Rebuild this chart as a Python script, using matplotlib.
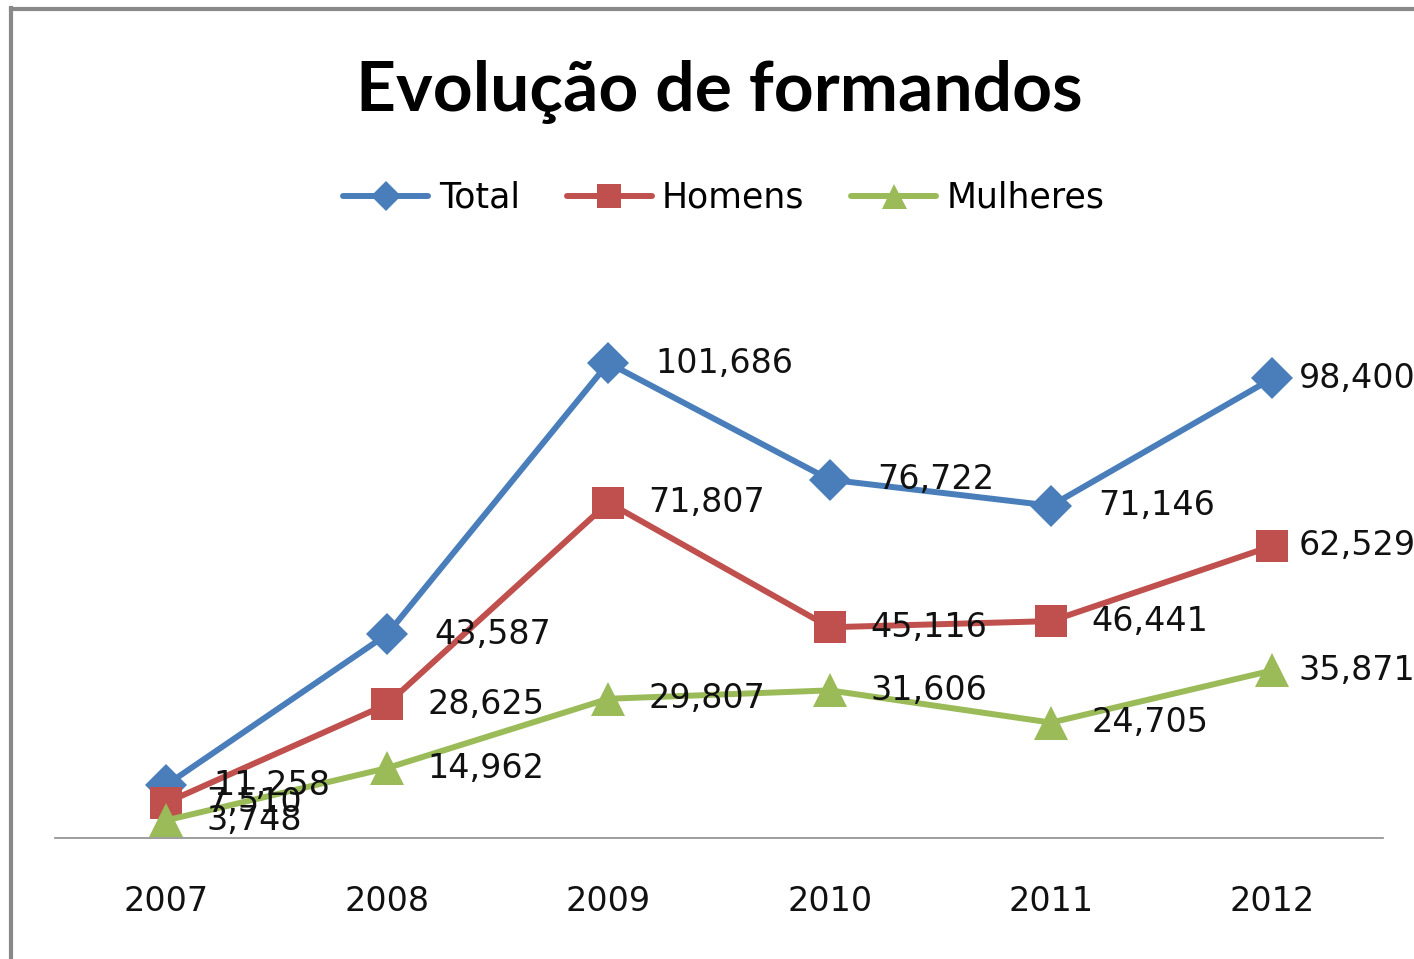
import matplotlib
matplotlib.use("Agg")
import matplotlib.pyplot as plt
from matplotlib.lines import Line2D

plt.rcParams.update({
    "font.family": ["DejaVu Sans"],
    "font.size": 24,
})

YEARS = ["2007", "2008", "2009", "2010", "2011", "2012"]
TOTAL = [11258, 43587, 101686, 76722, 71146, 98400]
HOMENS = [7510, 28625, 71807, 45116, 46441, 62529]
MULHERES = [3748, 14962, 29807, 31606, 24705, 35871]

BLUE = "#4A7EBB"
RED = "#C0504D"
GREEN = "#9BBB59"
TXT = "#111111"

W, H = 1414, 959
fig = plt.figure(figsize=(W / 100, H / 100), dpi=100)
ax = fig.add_axes([55 / W, (H - 838) / H, (1383 - 55) / W, (838 - 277.5) / H])

x = list(range(len(YEARS)))
series = [
    ("Total", TOTAL, BLUE, "D", 21, 34),
    ("Homens", HOMENS, RED, "s", 23, 29),
    ("Mulheres", MULHERES, GREEN, "^", 24, 29),
]
handles = []
for name, vals, color, mk, ms, off in series:
    ln, = ax.plot(x, vals, color=color, lw=4.3, marker=mk, markersize=ms,
                  markeredgewidth=0, solid_capstyle="round", zorder=3, label=name)
    handles.append(ln)
    for i, v in enumerate(vals):
        dx = 19 if i == len(vals) - 1 else off
        ax.annotate(f"{v:,}", (i, v), xytext=(dx, 0), textcoords="offset points",
                    ha="left", va="center", fontsize=24, color=TXT, zorder=4,
                    annotation_clip=False)

ax.set_xlim(-0.5, len(YEARS) - 0.5)
ax.set_ylim(0, 120000)
ax.set_xticks(x)
ax.set_xticklabels(YEARS)
ax.tick_params(axis="x", length=0, pad=34, labelsize=24, labelcolor=TXT)
ax.set_yticks([])
for s in ("top", "right", "left"):
    ax.spines[s].set_visible(False)
ax.spines["bottom"].set_color("#8c8c8c")
ax.spines["bottom"].set_linewidth(1.2)

fig.text(719 / W, 1 - 92 / H, "Evolução de formandos", ha="center", va="center",
         fontsize=50, fontweight="bold", family=["Lato", "DejaVu Sans"], color="black")

fig.legend(handles=handles, loc="center", bbox_to_anchor=(724 / W, 1 - 198 / H),
           ncol=3, frameon=False, fontsize=25, handlelength=2.45, handletextpad=0.3,
           columnspacing=1.35, markerscale=0.75)

# chart border (only left and top visible in the crop)
fig.add_artist(Line2D([11 / W, 11 / W], [0, 1 - 8 / H], color="#888888", lw=3,
                      transform=fig.transFigure))
fig.add_artist(Line2D([11 / W, 1], [1 - 9 / H, 1 - 9 / H], color="#888888", lw=3,
                      transform=fig.transFigure))

fig.savefig("out.png", dpi=100)
